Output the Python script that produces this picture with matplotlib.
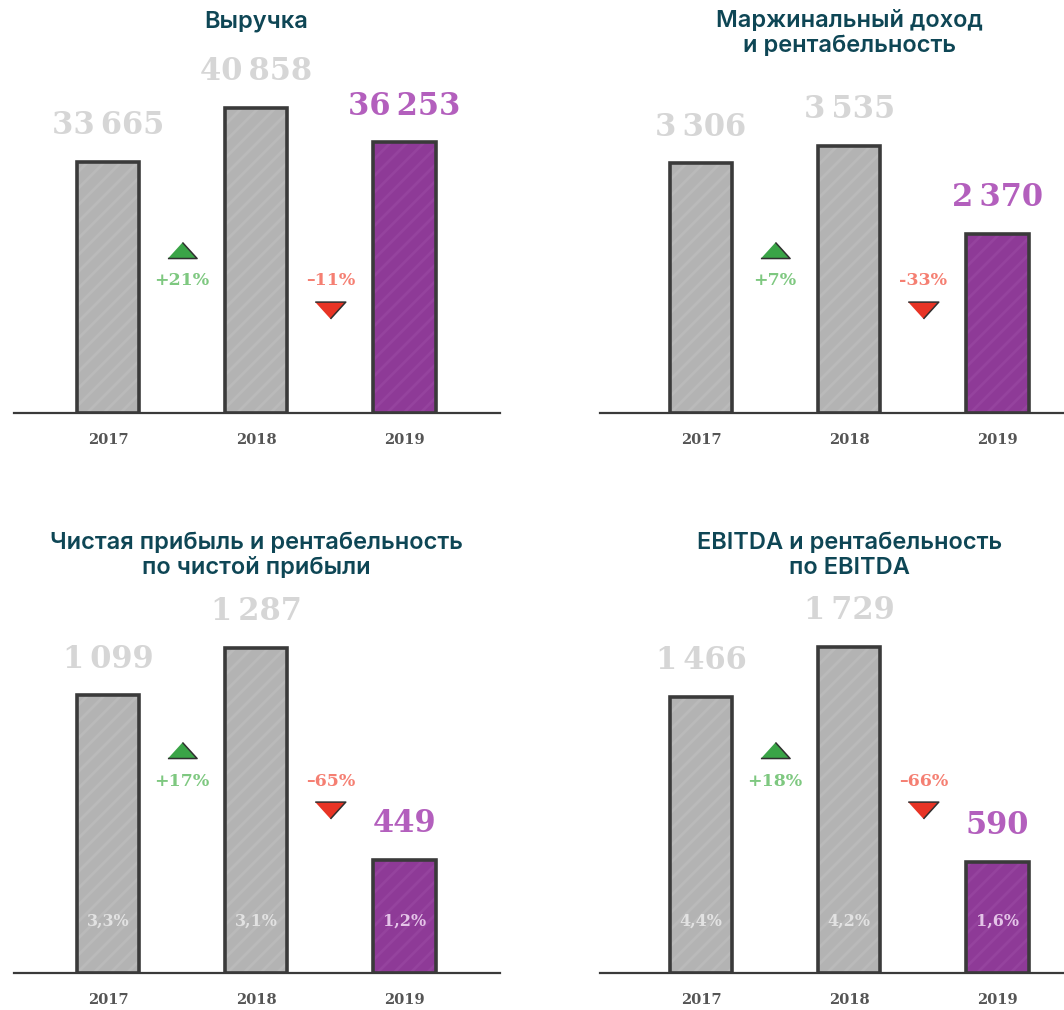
#Four small bar panels: revenue, margin income, net profit, EBITDA (2017-2019)
import matplotlib.pyplot as plt

plt.rcParams['hatch.linewidth'] = 2.0

#data
years = ['2017', '2018', '2019']
revenue = [33665, 40858, 36253]
margin_income = [3306, 3535, 2370]
net_profit = [1099, 1287, 449]
ebitda = [1466, 1729, 590]

revenue_chg = ['+21%', '–11%']
margin_chg = ['+7%', '-33%']
net_chg = ['+17%', '–65%']
ebitda_chg = ['+18%', '–66%']

net_margin = ['3,3%', '3,1%', '1,2%']
ebitda_margin = ['4,4%', '4,2%', '1,6%']

titles = ['Выручка',
          'Маржинальный доход\nи рентабельность',
          'Чистая прибыль и рентабельность\nпо чистой прибыли',
          'EBITDA и рентабельность\nпо EBITDA']

W, H = 1064, 1010
fig = plt.figure(figsize=(W/100, H/100), dpi=100)

GRAY = '#b3b3b3'
PURPLE = '#8e3a97'
EDGE = '#3a3a3a'
TITLE_C = '#0e4655'
SERIF = ['DejaVu Serif']

def fmt(v):
    s = f'{v:,}'
    return s.replace(',', '\u2009')

def panel(x0, x1, ybase, ytop, c0, values, max_px, chg, margins, title, title_y, shift):
    ax = fig.add_axes([x0/W, 1-ybase/H, (x1-x0)/W, (ybase-ytop)/H])
    step = 148.3
    ax.set_xlim((x0-c0)/step, (x1-c0)/step)
    scale = max_px / max(values)      # px per unit
    ax.set_ylim(0, (ybase-ytop)/scale)
    ax.axis('off')
    cols = [GRAY, GRAY, PURPLE]
    hatch_c = ['#bababa', '#bababa', '#95439e']
    for i, v in enumerate(values):
        ax.bar(i, v, width=0.42, color=cols[i], edgecolor=hatch_c[i], hatch='//', linewidth=0, zorder=2)
        ax.bar(i, v, width=0.42, fill=False, edgecolor=EDGE, linewidth=2.6, zorder=3)
        lc = '#d6d6d6' if i < 2 else '#b35fbd'
        ax.annotate(fmt(v), (i, v), xytext=(0, 26), textcoords='offset points',
                    ha='center', va='center', fontsize=22, fontweight='bold',
                    family=SERIF, color=lc, zorder=4)
        ax.text(i, -27/scale, years[i], ha='center', va='center', fontsize=10.5,
                fontweight='bold', family=SERIF, color='#555555')
        if margins:
            mc = '#e2e2e2' if i < 2 else '#e4c4e8'
            ax.text(i, 52/scale, margins[i], ha='center', va='center', fontsize=11.5,
                    fontweight='bold', family=SERIF, color=mc, zorder=4)
    # baseline
    ax.plot([(x0-c0)/step, (x1-c0)/step], [0, 0], color=EDGE, lw=1.6, zorder=1, clip_on=False)
    # change markers
    up = [(-1, -0.55), (1, -0.55), (0, 0.55)]
    down = [(-1, 0.55), (1, 0.55), (0, -0.55)]
    ax.plot(0.5, (163+shift)/scale, marker=up, ms=21, color='#3aa447', mec='#2f2f2f', mew=1.1)
    ax.text(0.5, (132+shift)/scale, chg[0], ha='center', va='center', fontsize=12.5,
            fontweight='bold', family=SERIF, color='#7ec880')
    ax.text(1.5, (132+shift)/scale, chg[1], ha='center', va='center', fontsize=12.5,
            fontweight='bold', family=SERIF, color='#f57f72')
    ax.plot(1.5, (103+shift)/scale, marker=down, ms=22, color='#e83425', mec='#2f2f2f', mew=1.1)
    fig.text((c0+step)/W, 1-title_y/H, title, ha='center', va='top', fontsize=17,
             fontweight='semibold', family=['Inter', 'DejaVu Sans'], color=TITLE_C,
             linespacing=1.15)
    return ax

panel(14, 500, 413, 60, 108, revenue, 305, revenue_chg, None, titles[0], 10, 0)
panel(600, 1064, 413, 60, 701, margin_income, 267, margin_chg, None, titles[1], 10, 0)
panel(14, 500, 973, 620, 108, net_profit, 325, net_chg, net_margin, titles[2], 532, 60)
panel(600, 1064, 973, 620, 701, ebitda, 326, ebitda_chg, ebitda_margin, titles[3], 532, 60)

fig.savefig('out.png', dpi=100, facecolor='white')
